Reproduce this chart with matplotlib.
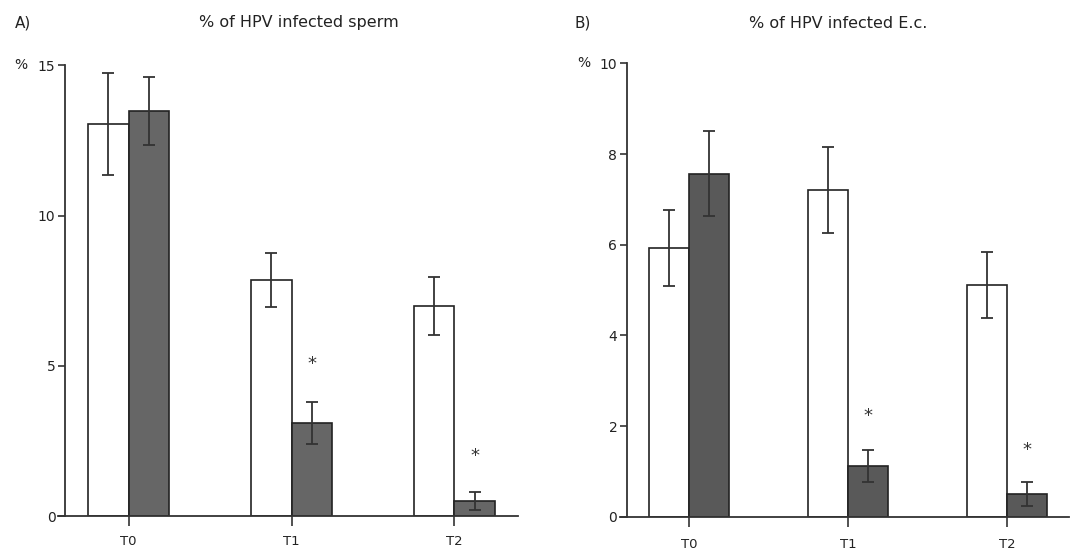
import matplotlib
matplotlib.use("Agg")
import matplotlib.pyplot as plt
from matplotlib.transforms import ScaledTranslation
import numpy as np

# data
times = ["T0", "T1", "T2"]

sperm_white = [13.06, 7.85, 6.99]
sperm_white_err = [1.70, 0.89, 0.97]
sperm_gray = [13.49, 3.09, 0.49]
sperm_gray_err = [1.13, 0.69, 0.30]
sperm_star = [None, 5.05, 2.0]

ec_white = [5.93, 7.21, 5.11]
ec_white_err = [0.83, 0.95, 0.73]
ec_gray = [7.57, 1.12, 0.50]
ec_gray_err = [0.93, 0.36, 0.27]
ec_star = [None, 2.22, 1.47]

W = 1072
H = 550
fig = plt.figure(figsize=(W / 100, H / 100), dpi=100)
plt.rcParams["font.family"] = ["DejaVu Sans"]


def panel(rect, white, werr, gray, gerr, stars, ymax, yticks, gray_col,
          title, title_x, letter, letter_x, tick_pad, pct_off):
    ax = fig.add_axes(rect)
    x = np.arange(len(times))
    w = 0.25
    ekw = dict(ecolor="#333333", elinewidth=1.3, capsize=4.5, capthick=1.3)
    ax.bar(x - w, white, w, align="edge", color="white", edgecolor="#222222",
           linewidth=1.2, yerr=werr, error_kw=ekw, zorder=2)
    ax.bar(x, gray, w, align="edge", color=gray_col, edgecolor="#222222",
           linewidth=1.2, yerr=gerr, error_kw=ekw, zorder=2)
    for i, s in enumerate(stars):
        if s is not None:
            ax.text(x[i] + w / 2, s, "*", ha="center", va="center",
                    fontsize=13, color="#333333")
    ax.set_xlim(-0.434, 2.39)
    ax.set_ylim(0, ymax)
    ax.spines["left"].set_position(("data", -0.39))
    for sp in ("top", "right"):
        ax.spines[sp].set_visible(False)
    for sp in ("left", "bottom"):
        ax.spines[sp].set_color("#333333")
        ax.spines[sp].set_linewidth(1.3)
    ax.set_xticks(x)
    ax.set_xticklabels(times)
    ax.set_yticks(yticks)
    ax.tick_params(axis="x", direction="out", length=7, width=1.2,
                   pad=tick_pad, labelsize=9.5, colors="#333333",
                   labelcolor="#222222")
    ax.tick_params(axis="y", direction="out", length=5, width=1.2,
                   pad=2, labelsize=10, colors="#333333",
                   labelcolor="#222222")
    # "%" unit marker left of the top tick label
    ax.text(-0.39, ymax, "%", ha="right", va="center", fontsize=10,
            color="#222222",
            transform=ax.transData + ScaledTranslation(pct_off, 0,
                                                       fig.dpi_scale_trans))
    fig.text(letter_x, 1 - 23 / H, letter, ha="left", va="center",
             fontsize=11, color="#222222")
    fig.text(title_x, 1 - 23 / H, title, ha="center", va="center",
             fontsize=11.5, color="#222222")
    return ax


panel([58 / W, 1 - 516 / H, (518 - 58) / W, (516 - 65.3) / H],
      sperm_white, sperm_white_err, sperm_gray, sperm_gray_err, sperm_star,
      15, [0, 5, 10, 15], "#666666", "% of HPV infected sperm", 299 / W,
      "A)", 15 / W, 7, -0.38)
panel([620 / W, 1 - 516.8 / H, (1069 - 620) / W, (516.8 - 63.3) / H],
      ec_white, ec_white_err, ec_gray, ec_gray_err, ec_star,
      10, [0, 2, 4, 6, 8, 10], "#595959", "% of HPV infected E.c.", 838 / W,
      "B)", 575 / W, 8, -0.37)

fig.savefig("out.png", dpi=100)
